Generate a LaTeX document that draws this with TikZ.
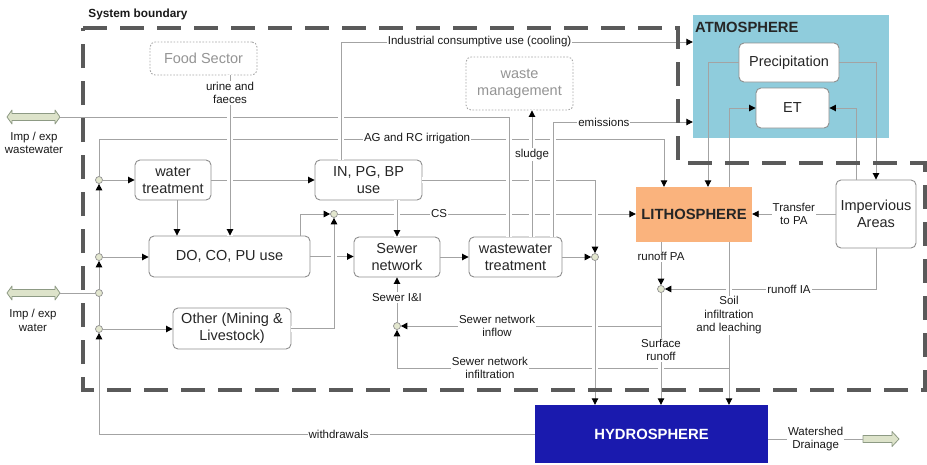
\documentclass[tikz,border=0pt]{standalone}
\usepackage{fontspec}
\setmainfont{Liberation Sans}
\usetikzlibrary{arrows.meta,calc}
\pgfdeclarelayer{fg}
\pgfsetlayers{main,fg}

\definecolor{linegray}{HTML}{A3A3A3}
\definecolor{boxgray}{HTML}{8E8E8E}
\definecolor{dotgray}{HTML}{A8A8A8}
\definecolor{bndgray}{HTML}{5A5A5A}
\definecolor{atmofill}{HTML}{8FCCDC}
\definecolor{lithofill}{HTML}{FAB37D}
\definecolor{hydrofill}{HTML}{1A1AAE}
\definecolor{jfill}{HTML}{E3E7CF}
\definecolor{jgray}{HTML}{8F8F8F}
\definecolor{blockfill}{HTML}{DDE3CA}
\definecolor{blockline}{HTML}{8D9A84}

\begin{document}
\begin{tikzpicture}[x=1pt,y=-1pt,
  box/.style={draw=boxgray, rounded corners=5pt, fill=white, align=center,
    font=\fontsize{14.5}{17}\selectfont, text=black!85, line width=0.9pt, inner sep=2pt},
  gbox/.style={box, draw=dotgray, dash pattern=on 1.6pt off 1.6pt, text=black!42},
  sphere/.style={inner sep=0pt, font=\bfseries\fontsize{14.8}{17}\selectfont},
  line/.style={draw=linegray, line width=0.9pt},
  arr/.style={line, -{Triangle[length=6.5pt,width=6.5pt,color=black]}},
  halo/.style={preaction={draw=white, line width=6pt, arrows=-}},
  lbl/.style={fill=white, inner sep=1pt, font=\fontsize{11.5}{13.5}\selectfont,
    align=center, text=black!90},
  jn/.style={circle, draw=jgray, fill=jfill, minimum size=7pt, inner sep=0pt, line width=0.7pt},
  block/.style={draw=blockline, fill=blockfill, line width=0.8pt, line join=round},
  bound/.style={draw=bndgray, line width=3.4pt, dash pattern=on 24pt off 13pt}
]
\useasboundingbox (0,0) rectangle (927,464);

% ---------- spheres ----------
\node[fill=atmofill, minimum width=196pt, minimum height=123pt, inner sep=0pt] (atmo) at (791,76.5) {};
\node[sphere, anchor=west, text=black!85] (atmolbl) at (695,27) {ATMOSPHERE};
\node[sphere, fill=lithofill, minimum width=116pt, minimum height=55pt, text=black!85] (litho) at (694,214.5) {LITHOSPHERE};
\node[sphere, fill=hydrofill, minimum width=233pt, minimum height=58pt, text=white] (hydro) at (651.5,434) {HYDROSPHERE};

% ---------- process boxes ----------
\node[gbox, minimum width=107pt, minimum height=33pt] (food) at (203.5,58.5) {Food Sector};
\node[gbox, minimum width=107pt, minimum height=53pt] (waste) at (519.5,83.5) {waste\\management};
\node[box, minimum width=76pt, minimum height=40pt] (wt) at (173,180) {water\\treatment};
\node[box, minimum width=107pt, minimum height=40pt] (inpg) at (368.5,180) {IN, PG, BP\\use};
\node[box, minimum width=161pt, minimum height=41pt] (do) at (229.5,256.5) {DO, CO, PU use};
\node[box, minimum width=118pt, minimum height=41pt] (other) at (232,328.5) {Other (Mining \&\\Livestock)};
\node[box, minimum width=86pt, minimum height=40pt] (sewer) at (397,257) {Sewer\\network};
\node[box, minimum width=93pt, minimum height=40pt] (wwt) at (515.5,257) {wastewater\\treatment};
\node[box, minimum width=100pt, minimum height=39pt] (precip) at (789,62.5) {Precipitation};
\node[box, minimum width=73pt, minimum height=40pt] (et) at (792.5,108) {ET};
\node[box, minimum width=80pt, minimum height=68pt] (imperv) at (876,214) {Impervious\\Areas};

% ---------- titles and outside labels ----------
\node[font=\bfseries\fontsize{11.8}{14}\selectfont, text=black!90] (title) at (138,14) {System boundary};
\node[lbl, fill=none] (impwwlbl) at (34,143) {Imp / exp\\wastewater};
\node[lbl, fill=none] (impwlbl) at (33,320.5) {Imp / exp\\water};

% ---------- block arrows ----------
\draw[block] (7,117) -- (12,110) -- (12,113.5) -- (55,113.5) -- (55,110) -- (60,117)
  -- (55,124) -- (55,120.5) -- (12,120.5) -- (12,124) -- cycle;
\coordinate (impww) at (60,117);
\draw[block] (7,293) -- (12,286) -- (12,289.5) -- (55,289.5) -- (55,286) -- (60,293)
  -- (55,300) -- (55,296.5) -- (12,296.5) -- (12,300) -- cycle;
\coordinate (impw) at (60,293);
\draw[block] (863,435.5) -- (892,435.5) -- (892,431.5) -- (899,439) -- (892,446.5)
  -- (892,442.5) -- (863,442.5) -- cycle;
\coordinate (drain) at (863,439);

% ---------- junctions ----------
\begin{pgfonlayer}{fg}
\node[jn] (jw1) at (99,180) {};
\node[jn] (jw2) at (99,257) {};
\node[jn] (jw3) at (99,293) {};
\node[jn] (jw4) at (99,329) {};
\node[jn] (jcs) at (334,214) {};
\node[jn] (jww) at (595,257) {};
\node[jn] (jsi) at (397,326) {};
\node[jn] (jro) at (661,289) {};
\end{pgfonlayer}
\coordinate (infs) at (729,368);

% ---------- flows passing under others ----------
\draw[arr] (hydro.west) -- node[lbl,pos=0.45]{withdrawals} (hydro.west -| jw4) -- (jw4);
\draw[line] (jw4) -- (jw3);
\draw[arr] (jw3) -- (jw2);
\draw[arr] (jw2) -- (jw1);
\draw[arr] (jw1) -- (99,139) -- node[lbl,pos=0.563]{AG and RC irrigation} (664,139) -- ([xshift=-30pt]litho.north);
\draw[line] (impw) -- (jw3);
\draw[arr] (jw1) -- (wt);
\draw[arr] (jw2) -- (jw2 -| do.west);
\draw[arr] (jw4) -- (jw4 -| other.west);
\draw[arr] (wt) -- (inpg);
\draw[arr] ([xshift=4pt]wt.south) -- ([xshift=4pt]wt.south |- do.north);
\draw[arr] (do.east) -- (do.east -| sewer.west);
\draw[arr] (sewer) -- (wwt);
\draw[arr] (wwt) -- (jww);
\draw[arr] ([xshift=70.5pt]do.north) |- (jcs);
\draw[arr] (jcs) -- node[lbl,pos=0.34]{CS} (jcs -| litho.west);
\draw[arr] (jsi) -- node[lbl,pos=0.55]{Sewer I\&I} (sewer);
\draw[arr] (jro |- jsi) -- node[lbl,pos=0.63]{Sewer network\\inflow} (jsi);
\draw[arr] (infs) -| node[lbl,pos=0.36]{Sewer network\\infiltration} (jsi);
\draw[arr] (jro |- litho.south) -- node[lbl,pos=0.34]{runoff PA} (jro);
\draw[arr] (imperv.south) |- node[lbl,pos=0.706]{runoff IA} (jro);
\draw[arr] (imperv.west) -- node[lbl]{Transfer\\to PA} (imperv.west -| litho.east);
\draw[arr] (precip.west) -| ([xshift=14pt]litho.north);
\draw[arr] (precip.east) -| (imperv.north);
\draw[arr] ([xshift=35pt]litho.north) |- (et.west);
\draw[arr] ([xshift=-20pt]imperv.north) |- (et.east);
\draw[line] (drain -| hydro.east) -- node[lbl]{Watershed\\Drainage} (drain);

% ---------- flows passing over others ----------
\draw[arr,halo] (inpg.east) -| (jww);
\draw[line,halo] (impww) -| ([xshift=-6.5pt]wwt.north);
\draw[arr,halo] ([xshift=16.5pt]wwt.north) -- node[lbl,pos=0.65]{sludge} ([xshift=16.5pt]wwt.north |- waste.south);
\draw[arr,halo] ([xshift=37.5pt]wwt.north) |- node[lbl,pos=0.682]{emissions} ([yshift=-45.5pt]atmo.west);
\draw[arr,halo] ([xshift=26.5pt]food.south) -- node[lbl,pos=0.11]{urine and\\faeces} ([xshift=26.5pt]food.south |- do.north);
\draw[arr,halo] ([xshift=-27.5pt]inpg.north) |- node[lbl,pos=0.697]{Industrial consumptive use (cooling)} ([yshift=34.5pt]atmo.west);
\draw[arr,halo] (sewer.north |- inpg.south) -- (sewer.north);
\draw[arr,halo] (other.east) -| (jcs);
\draw[arr,halo] (jww) -- (jww |- hydro.north);
\draw[arr,halo] (jro) -- node[lbl,pos=0.51]{Surface\\runoff} (jro |- hydro.north);
\draw[arr,halo] (infs |- litho.south) -- node[lbl,pos=0.45]{Soil\\infiltration\\and leaching} (infs |- hydro.north);
% rejoin the side flows to their source lines
\draw[line] (jro |- jsi) -- ++(-7,0);
\draw[line] (infs) -- ++(-7,0);

% ---------- system boundary ----------
\draw[bound] (83,28) -- (678,28) -- (678,163) -- (925,163) -- (925,390) -- (83,390) -- cycle;
\end{tikzpicture}
\end{document}
